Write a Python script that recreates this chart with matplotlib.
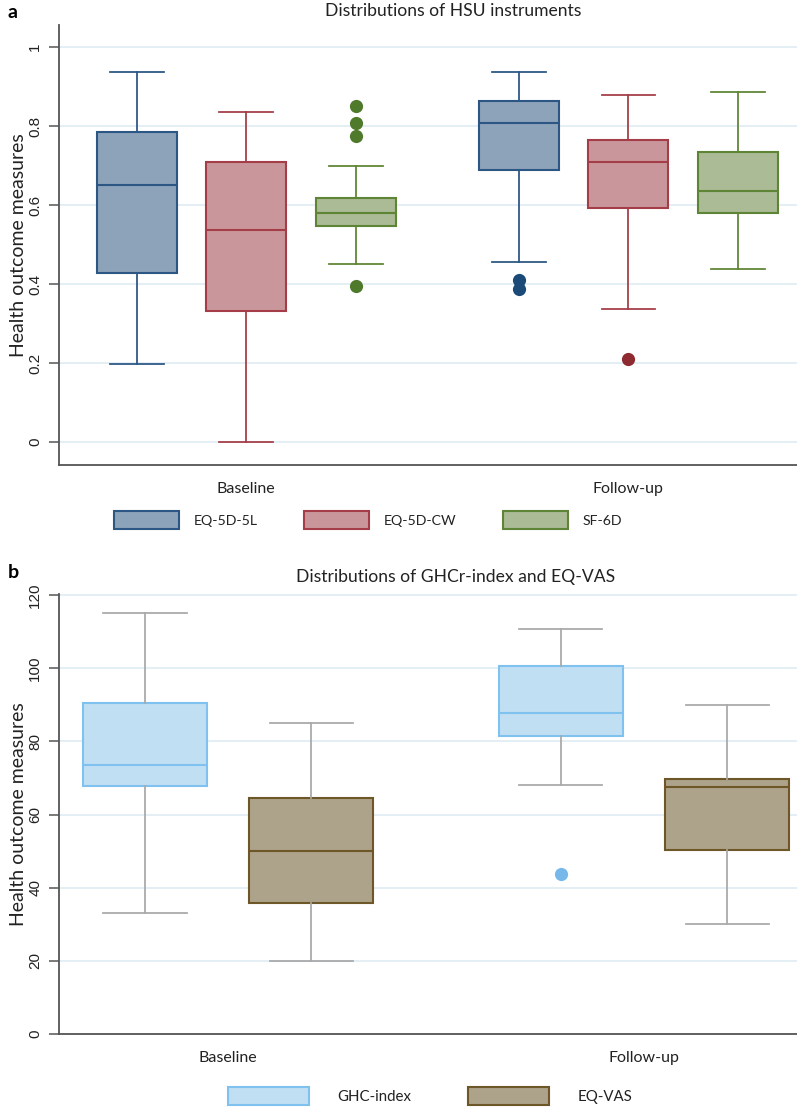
import matplotlib
matplotlib.use("Agg")
import matplotlib.pyplot as plt
from matplotlib.patches import Patch

plt.rcParams["font.family"] = ["Lato", "DejaVu Sans"]

# ---------------------------------------------------------------------------
# data
# ---------------------------------------------------------------------------
GROUPS = ["Baseline", "Follow-up"]

# panel a: HSU instruments, one row per group, columns = instruments
HSU = ["EQ-5D-5L", "EQ-5D-CW", "SF-6D"]
HSU_LO = [[0.197, 0.000, 0.452], [0.456, 0.336, 0.438]]
HSU_Q1 = [[0.427, 0.333, 0.548], [0.688, 0.593, 0.580]]
HSU_MED = [[0.652, 0.537, 0.580], [0.808, 0.710, 0.636]]
HSU_Q3 = [[0.784, 0.708, 0.618], [0.863, 0.765, 0.735]]
HSU_HI = [[0.937, 0.836, 0.700], [0.937, 0.878, 0.886]]
HSU_OUT = [[[], [], [0.851, 0.808, 0.775, 0.396]],
           [[0.41, 0.388], [0.210], []]]

# panel b: GHCr-index and EQ-VAS
GEN = ["GHC-index", "EQ-VAS"]
GEN_LO = [[33, 20], [68, 30]]
GEN_Q1 = [[67.7, 35.8], [81.5, 50.2]]
GEN_MED = [[73.6, 50.0], [87.8, 67.4]]
GEN_Q3 = [[90.5, 64.6], [100.6, 69.6]]
GEN_HI = [[115, 85], [110.8, 90]]
GEN_OUT = [[[], []], [[43.8], []]]

# styles
HSU_FILL = ["#8da3ba", "#c9979b", "#abbb95"]
HSU_EDGE = ["#2c5785", "#a43d48", "#5e8535"]
HSU_DOT = ["#1c4a78", "#8e2b31", "#4f7a2b"]
GEN_FILL = ["#c1dff3", "#ada38a"]
GEN_EDGE = ["#80c2ef", "#6d5627"]
GEN_DOT = ["#77b8ea", "#6d5627"]
GRID = "#e4eff5"
SPINE = "#555555"
TXT = "#222222"

W, H = 797, 1108
fig = plt.figure(figsize=(W / 100, H / 100), dpi=100)


def px_axes(x0, y0, x1, y1):
    return fig.add_axes([x0 / W, 1 - y1 / H, (x1 - x0) / W, (y1 - y0) / H])


def style_axes(ax, ticks, labels):
    ax.set_yticks(ticks)
    ax.set_yticklabels(labels, family=["Liberation Sans", "DejaVu Sans"])
    ax.grid(axis="y", color=GRID, lw=1.4, zorder=0)
    ax.set_axisbelow(True)
    for s in ("top", "right"):
        ax.spines[s].set_visible(False)
    for s in ("left", "bottom"):
        ax.spines[s].set_color(SPINE)
        ax.spines[s].set_linewidth(1.3)
    ax.tick_params(axis="y", length=7, width=1.1, color=SPINE, labelsize=11,
                   labelcolor=TXT, labelrotation=90, pad=5)
    for lab in ax.get_yticklabels():
        lab.set_va("center")
    ax.tick_params(axis="x", length=0, labelsize=11.5, labelcolor=TXT, pad=12)
    ax.set_ylabel("Health outcome measures", fontsize=14, color=TXT, labelpad=1)


def draw_box(ax, pos, lo, q1, med, q3, hi, out, fill, edge, dot, whisk, width, cap, lw):
    stat = dict(whislo=lo, q1=q1, med=med, q3=q3, whishi=hi, fliers=out)
    ax.bxp([stat], positions=[pos], widths=width, capwidths=cap, patch_artist=True,
           showfliers=True,
           boxprops=dict(facecolor=fill, edgecolor=edge, linewidth=lw),
           medianprops=dict(color=edge, linewidth=lw),
           whiskerprops=dict(color=whisk, linewidth=lw * 0.85),
           capprops=dict(color=whisk, linewidth=lw * 0.85),
           flierprops=dict(marker="o", markersize=9.5, markerfacecolor=dot,
                           markeredgecolor="none"))


# ---------------------------------------------------------------------------
# (a) HSU instruments
# ---------------------------------------------------------------------------
axa = px_axes(59, 25, 797, 465)
GAP_A = 3.49
for g in range(len(GROUPS)):
    for s in range(len(HSU)):
        draw_box(axa, g * GAP_A + s, HSU_LO[g][s], HSU_Q1[g][s], HSU_MED[g][s],
                 HSU_Q3[g][s], HSU_HI[g][s], HSU_OUT[g][s],
                 HSU_FILL[s], HSU_EDGE[s], HSU_DOT[s], HSU_EDGE[s], 0.73, 0.49, 1.5)
axa.set_xlim(-0.71, 6.03)
axa.set_ylim(-0.058, 1.056)
style_axes(axa, [0, 0.2, 0.4, 0.6, 0.8, 1.0], ["0", "0.2", "0.4", "0.6", "0.8", "1"])
axa.set_xticks([g * GAP_A + 1 for g in range(len(GROUPS))])
axa.set_xticklabels(GROUPS)

fig.text(453 / W, 1 - 11 / H, "Distributions of HSU instruments", ha="center",
         va="center", fontsize=12.6, color=TXT)
fig.text(8 / W, 1 - 12 / H, "a", ha="left", va="center", fontsize=14,
         fontweight="bold", color="black")

hand_a = [Patch(facecolor=HSU_FILL[i], edgecolor=HSU_EDGE[i], linewidth=1.5)
          for i in range(len(HSU))]
fig.legend(hand_a, HSU, loc="center", bbox_to_anchor=(368 / W, 1 - 520 / H),
           ncol=3, frameon=False, fontsize=10.2, handlelength=4.6, handleheight=1.65,
           handletextpad=1.0, columnspacing=3.3, labelcolor=TXT)

# ---------------------------------------------------------------------------
# (b) GHCr-index and EQ-VAS
# ---------------------------------------------------------------------------
axb = px_axes(59, 594, 797, 1034)
GAP_B = 2.5
for g in range(len(GROUPS)):
    for s in range(len(GEN)):
        draw_box(axb, g * GAP_B + s, GEN_LO[g][s], GEN_Q1[g][s], GEN_MED[g][s],
                 GEN_Q3[g][s], GEN_HI[g][s], GEN_OUT[g][s],
                 GEN_FILL[s], GEN_EDGE[s], GEN_DOT[s], "#a9a9a9", 0.745, 0.5, 1.5)
axb.set_xlim(-0.517, 3.92)
axb.set_ylim(0, 120.3)
style_axes(axb, [0, 20, 40, 60, 80, 100, 120], ["0", "20", "40", "60", "80", "100", "120"])
axb.set_xticks([0.5, 3.0])
axb.set_xticklabels(GROUPS)

fig.text(456 / W, 1 - 577 / H, "Distributions of GHCr-index and EQ-VAS", ha="center",
         va="center", fontsize=12.6, color=TXT)
fig.text(8 / W, 1 - 573 / H, "b", ha="left", va="center", fontsize=14,
         fontweight="bold", color="black")

hand_b = [Patch(facecolor=GEN_FILL[i], edgecolor=GEN_EDGE[i], linewidth=1.5)
          for i in range(len(GEN))]
fig.legend(hand_b, GEN, loc="center", bbox_to_anchor=(430 / W, 1 - 1096 / H),
           ncol=2, frameon=False, fontsize=10.8, handlelength=5.4, handleheight=1.4,
           handletextpad=1.9, columnspacing=3.8, labelcolor=TXT)

fig.savefig("out.png", dpi=100)
